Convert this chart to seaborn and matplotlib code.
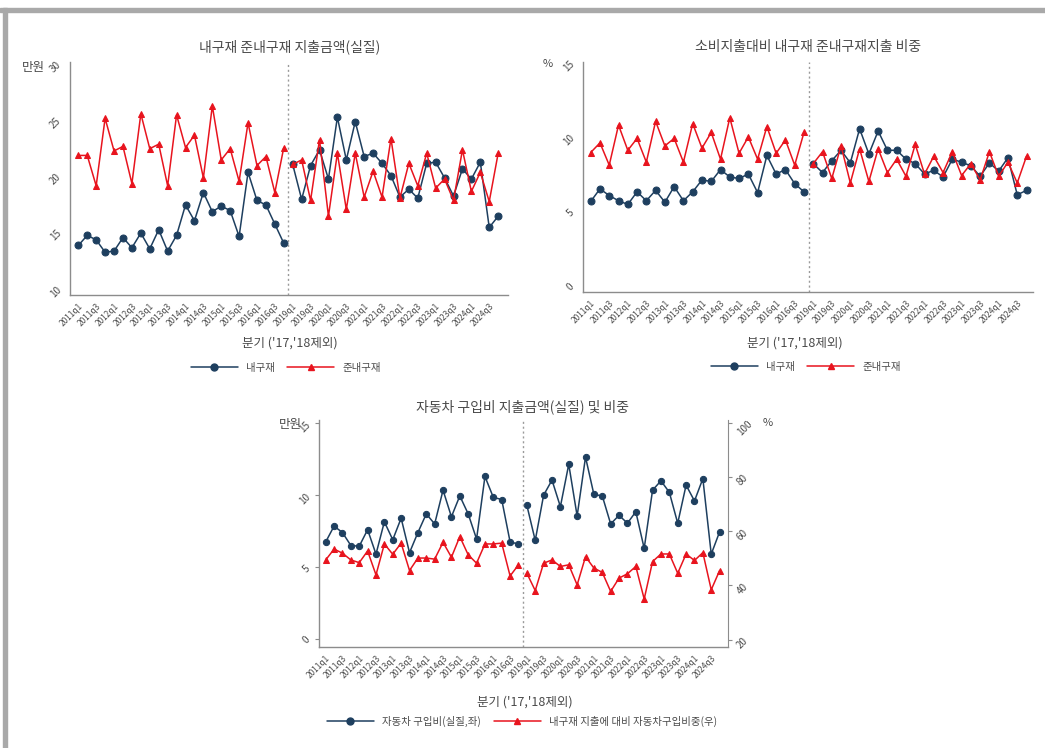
import matplotlib
matplotlib.use("Agg")
import matplotlib.pyplot as plt
import pandas as pd
import seaborn as sns
from matplotlib.lines import Line2D
from matplotlib.patches import Rectangle

# Quarters shown (2017, 2018 excluded)
years = [2011, 2012, 2013, 2014, 2015, 2016, 2019, 2020, 2021, 2022, 2023, 2024]
quarters = [f"{y}q{q}" for y in years for q in range(1, 5)]
segment = [0] * 24 + [1] * 24

# Spending (real, 10k won)
durable_amt = [13.8, 14.7, 14.3, 13.2, 13.3, 14.5, 13.6, 14.9, 13.5, 15.2, 13.3, 14.7,
               17.4, 16.0, 18.5, 16.8, 17.3, 16.9, 14.6, 20.3, 17.8, 17.4, 15.7, 14.0,
               21.0, 17.9, 20.9, 22.3, 19.7, 25.2, 21.4, 24.8, 21.7, 22.0, 21.1, 20.0,
               18.1, 18.8, 18.0, 21.1, 21.2, 19.8, 18.2, 20.6, 19.7, 21.2, 15.4, 16.4]
semi_amt = [21.8, 21.8, 19.1, 25.1, 22.2, 22.6, 19.3, 25.5, 22.4, 22.8, 19.1, 25.4,
            22.5, 23.6, 19.8, 26.2, 21.4, 22.4, 19.5, 24.7, 20.9, 21.7, 18.5, 22.5,
            21.0, 21.4, 17.8, 23.2, 16.4, 22.0, 17.0, 22.0, 18.1, 20.4, 18.1, 23.3,
            18.0, 21.1, 19.1, 22.0, 18.9, 19.7, 17.8, 22.3, 18.6, 20.3, 17.7, 22.0]

# Share of consumption expenditure (%)
durable_share = [5.65, 6.5, 6.05, 5.7, 5.45, 6.3, 5.7, 6.4, 5.6, 6.65, 5.7, 6.3,
                 7.1, 7.0, 7.8, 7.3, 7.2, 7.5, 6.25, 8.75, 7.5, 7.8, 6.85, 6.3,
                 8.2, 7.6, 8.4, 9.1, 8.25, 10.55, 8.85, 10.4, 9.1, 9.1, 8.5, 8.2,
                 7.5, 7.75, 7.3, 8.5, 8.3, 8.05, 7.35, 8.25, 7.7, 8.6, 6.1, 6.4]
semi_share = [8.95, 9.6, 8.1, 10.8, 9.1, 9.9, 8.3, 11.05, 9.4, 9.9, 8.3, 10.9,
              9.25, 10.3, 8.5, 11.3, 8.9, 10.0, 8.5, 10.7, 8.9, 9.8, 8.1, 10.3,
              8.2, 9.0, 7.2, 9.4, 6.9, 9.2, 7.0, 9.2, 7.6, 8.5, 7.35, 9.5,
              7.5, 8.7, 7.6, 9.0, 7.4, 8.2, 7.1, 9.0, 7.35, 8.3, 6.9, 8.7]

# Car purchase (real, 10k won, left) and share of durable spending (%, right)
car_amt = [6.75, 7.85, 7.4, 6.5, 6.45, 7.6, 5.9, 8.15, 6.9, 8.4, 6.0, 7.4,
           8.7, 8.0, 10.35, 8.5, 9.95, 8.7, 6.95, 11.3, 9.85, 9.7, 6.75, 6.6,
           9.3, 6.85, 10.0, 11.05, 9.2, 12.15, 8.55, 12.65, 10.05, 9.95, 8.0, 8.6,
           8.05, 8.85, 6.3, 10.35, 11.0, 10.2, 8.05, 10.7, 9.6, 11.15, 5.9, 7.45]
car_share = [49.4, 53.4, 51.9, 49.4, 48.4, 52.7, 43.9, 55.3, 51.5, 55.6, 45.5, 50.1,
             50.1, 49.7, 55.9, 50.4, 58.0, 51.3, 48.2, 55.3, 55.3, 55.6, 43.5, 47.6,
             44.5, 38.1, 48.2, 49.4, 47.0, 47.6, 40.2, 50.6, 46.4, 44.8, 37.8, 42.7,
             44.3, 47.0, 35.0, 48.8, 51.6, 51.6, 44.5, 51.6, 49.2, 52.1, 38.4, 45.5]

df = pd.DataFrame({
    "pos": range(len(quarters)),
    "quarter": quarters,
    "seg": segment,
    "durable_amt": durable_amt,
    "semi_amt": semi_amt,
    "durable_share": durable_share,
    "semi_share": semi_share,
    "car_amt": car_amt,
    "car_share": car_share,
})

sns.set_style("white")
plt.rcParams["font.family"] = ["Noto Sans CJK KR", "DejaVu Sans"]

BLUE = "#1e3f5f"
RED = "#e8141e"
AXIS = "#8c8c8c"
TEXT = "#4a4a4a"
W, H = 1045, 748

fig = plt.figure(figsize=(W / 100, H / 100), dpi=100)


def px_box(x0, y0, x1, y1):
    # pixel box (top-left origin) -> figure fraction
    return [x0 / W, 1 - y1 / H, (x1 - x0) / W, (y1 - y0) / H]


def draw_series(ax, col, color, marker, ms):
    sns.lineplot(data=df, x="pos", y=col, units="seg", estimator=None, ax=ax,
                 color=color, marker=marker, markersize=ms, linewidth=1.1,
                 markeredgecolor=color, legend=False)


def style_axis(ax, ylim, yticks, xlim):
    ax.set_xlim(*xlim)
    ax.set_ylim(*ylim)
    ax.set_yticks(yticks)
    ax.set_xticks(range(0, len(quarters), 2))
    ax.set_xticklabels(quarters[::2], rotation=45, ha="right",
                       rotation_mode="anchor", fontsize=6, color=TEXT)
    ax.tick_params(axis="y", labelrotation=45, labelsize=7, labelcolor=TEXT)
    ax.tick_params(direction="out", length=3, width=0.8, color=AXIS, pad=2)
    ax.set_xlabel("")
    ax.set_ylabel("")
    for s in ["top", "right"]:
        ax.spines[s].set_visible(False)
    for s in ["left", "bottom"]:
        ax.spines[s].set_color(AXIS)
        ax.spines[s].set_linewidth(1.0)
    ax.axvline(23.5, color="#9a9a9a", linestyle=(0, (1.5, 2)), linewidth=1.0)


def add_legend(labels, cx, cy):
    handles = [
        Line2D([], [], color=BLUE, marker="o", markersize=5, linewidth=1.1),
        Line2D([], [], color=RED, marker="^", markersize=4, linewidth=1.1),
    ]
    fig.legend(handles, labels, loc="center", bbox_to_anchor=(cx / W, 1 - cy / H),
               ncol=2, frameon=False, fontsize=7.5, handlelength=4.5,
               columnspacing=1.2, handletextpad=0.8, numpoints=1,
               labelcolor=TEXT)


xlabel = "분기 ('17,'18제외)"

# Chart 1: spending amount
ax1 = fig.add_axes(px_box(70, 62, 508, 295))
draw_series(ax1, "durable_amt", BLUE, "o", 5)
draw_series(ax1, "semi_amt", RED, "^", 4.5)
style_axis(ax1, (9.4, 30.1), [10, 15, 20, 25, 30], (-0.93, 48.1))
fig.text(290 / W, 1 - 47 / H, "내구재 준내구재 지출금액(실질)", ha="center",
         va="center", fontsize=10, color=TEXT)
fig.text(33 / W, 1 - 68 / H, "만원", ha="center", va="center", fontsize=9, color=TEXT)
fig.text(290 / W, 1 - 343 / H, xlabel, ha="center", va="center", fontsize=9, color=TEXT)
add_legend(["내구재", "준내구재"], 286, 368)

# Chart 2: share of consumption
ax2 = fig.add_axes(px_box(583, 62, 1033, 292))
draw_series(ax2, "durable_share", BLUE, "o", 5)
draw_series(ax2, "semi_share", RED, "^", 4.5)
style_axis(ax2, (-0.45, 15.05), [0, 5, 10, 15], (-0.83, 47.7))
fig.text(808 / W, 1 - 47 / H, "소비지출대비 내구재 준내구재지출 비중", ha="center",
         va="center", fontsize=10, color=TEXT)
fig.text(548 / W, 1 - 64 / H, "%", ha="center", va="center", fontsize=8, color=TEXT)
fig.text(795 / W, 1 - 343 / H, xlabel, ha="center", va="center", fontsize=9, color=TEXT)
add_legend(["내구재", "준내구재"], 806, 367)

# Chart 3: car purchase amount and share
ax3 = fig.add_axes(px_box(319, 420, 728, 647))
draw_series(ax3, "car_amt", BLUE, "o", 4.5)
style_axis(ax3, (-0.56, 15.23), [0, 5, 10, 15], (-0.8, 48.0))
ax3r = ax3.twinx()
draw_series(ax3r, "car_share", RED, "^", 4)
ax3r.set_ylim(17.3, 101.0)
ax3r.set_yticks([20, 40, 60, 80, 100])
ax3r.set_ylabel("")
ax3r.tick_params(axis="y", labelrotation=45, labelsize=7, labelcolor=TEXT,
                 direction="out", length=3, width=0.8, color=AXIS, pad=2)
for s in ["top", "left", "bottom"]:
    ax3r.spines[s].set_visible(False)
ax3r.spines["right"].set_color(AXIS)
fig.text(523 / W, 1 - 407 / H, "자동차 구입비 지출금액(실질) 및 비중", ha="center",
         va="center", fontsize=10, color=TEXT)
fig.text(290 / W, 1 - 424 / H, "만원", ha="center", va="center", fontsize=9, color=TEXT)
fig.text(768 / W, 1 - 423 / H, "%", ha="center", va="center", fontsize=8, color=TEXT)
fig.text(525 / W, 1 - 702 / H, xlabel, ha="center", va="center", fontsize=9, color=TEXT)
add_legend(["자동차 구입비(실질,좌)", "내구재 지출에 대비 자동차구입비중(우)"], 522, 721)

# Outer frame (top and left edges)
fig.patches.append(Rectangle((0, 1 - 12 / H), 1, 4 / H, transform=fig.transFigure,
                             color="#a9a9a9", zorder=0))
fig.patches.append(Rectangle((3 / W, 0), 4 / W, 1 - 8 / H, transform=fig.transFigure,
                             color="#a9a9a9", zorder=0))

plt.savefig("out.png", dpi=100)
plt.close()
